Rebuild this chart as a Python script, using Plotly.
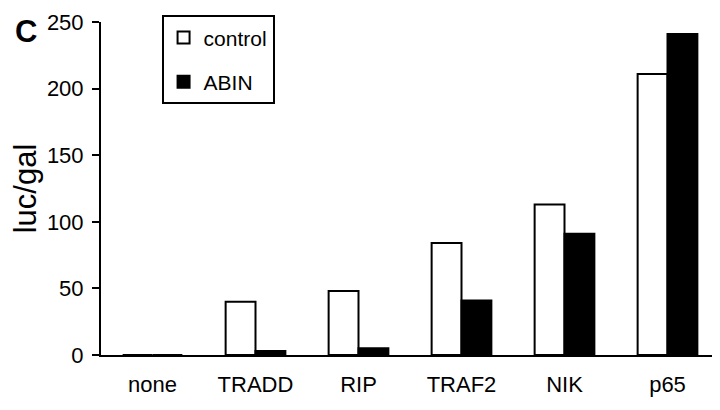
import plotly.graph_objects as go

CATEGORIES = ["none", "TRADD", "RIP", "TRAF2", "NIK", "p65"]
CONTROL = [0, 40, 48, 84, 113, 211]
ABIN = [0, 3, 5, 41, 91, 241]
Y_TICKS = [0, 50, 100, 150, 200, 250]

FONT = "Liberation Sans, Arial, sans-serif"

# the page body keeps its 8px margin, so the figure is a little smaller
fig = go.Figure()
fig.add_trace(
    go.Bar(
        x=CATEGORIES,
        y=CONTROL,
        name="control",
        legendgroup="control",
        marker={"color": "white", "line": {"color": "black", "width": 2}},
    )
)
fig.add_trace(
    go.Bar(
        x=CATEGORIES,
        y=ABIN,
        name="ABIN",
        legendgroup="abin",
        marker={"color": "black", "line": {"color": "black", "width": 2}},
    )
)
fig.update_layout(
    width=712,
    height=402,
    barmode="group",
    bargap=0.42,
    bargroupgap=0,
    paper_bgcolor="white",
    plot_bgcolor="white",
    font={"family": FONT, "color": "black", "size": 22},
    margin={"l": 91, "r": 1, "t": 14, "b": 55},
    legend={
        "x": 0.098,
        "y": 1.02,
        "xanchor": "left",
        "yanchor": "top",
        "bordercolor": "black",
        "borderwidth": 2,
        "bgcolor": "white",
        "font": {"size": 21},
        "tracegroupgap": 14,
    },
    annotations=[
        {
            "text": "<b>C</b>",
            "x": -0.142,
            "y": 1.03,
            "xref": "paper",
            "yref": "paper",
            "xanchor": "left",
            "yanchor": "top",
            "showarrow": False,
            "font": {"size": 31},
        }
    ],
)
fig.update_xaxes(
    showline=True,
    linecolor="black",
    linewidth=2,
    ticks="",
    tickfont={"size": 22},
    ticklabelstandoff=9,
    showgrid=False,
)
fig.update_yaxes(
    range=[0, 250],
    tickvals=Y_TICKS,
    showline=True,
    linecolor="black",
    linewidth=2,
    ticks="outside",
    ticklen=7,
    tickwidth=2,
    tickcolor="black",
    ticklabelstandoff=4,
    showgrid=False,
    zeroline=False,
    title={"text": "luc/gal", "font": {"size": 31}, "standoff": 16},
)
fig.write_html("out.html")
